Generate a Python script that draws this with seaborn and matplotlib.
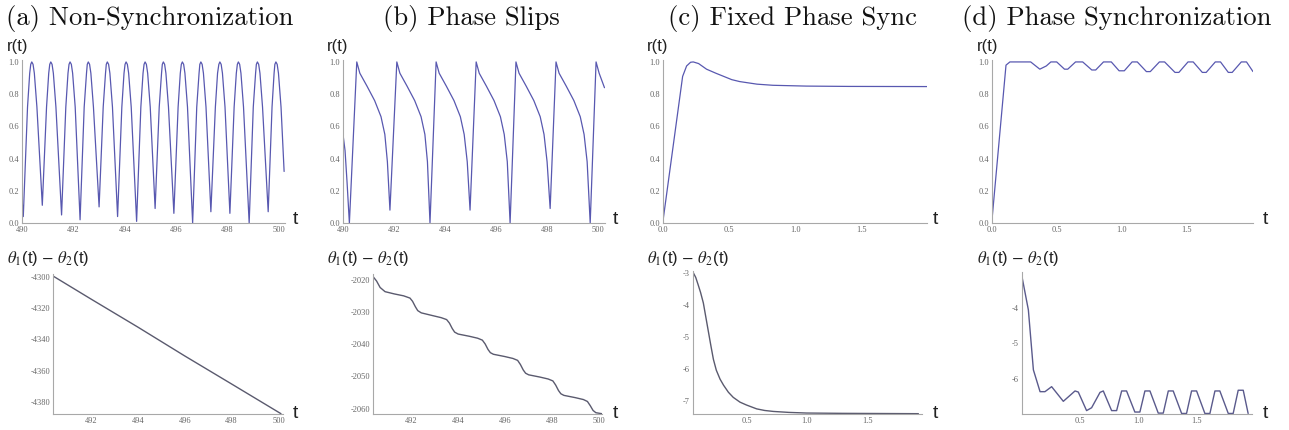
import matplotlib
matplotlib.use("Agg")
import matplotlib.pyplot as plt
import seaborn as sns

# ---- data ----
titles = ["(a) Non-Synchronization", "(b) Phase Slips", "(c) Fixed Phase Sync", "(d) Phase Synchronization"]

# (a) r(t), non-synchronization
a_r_t = [490.00,
         490.05, 490.215, 490.30, 490.34, 490.38, 490.43, 490.48, 490.58,
         490.79, 490.955, 491.04, 491.08, 491.12, 491.17, 491.22, 491.32,
         491.54, 491.705, 491.79, 491.83, 491.87, 491.92, 491.97, 492.07,
         492.26, 492.42, 492.51, 492.54, 492.58, 492.63, 492.68, 492.78,
         493.00, 493.16, 493.25, 493.28, 493.32, 493.37, 493.42, 493.52,
         493.72, 493.885, 493.97, 494.01, 494.05, 494.10, 494.15, 494.25,
         494.46, 494.625, 494.71, 494.75, 494.79, 494.84, 494.89, 494.99,
         495.18, 495.34, 495.43, 495.46, 495.50, 495.55, 495.60, 495.70,
         495.91, 496.075, 496.16, 496.20, 496.24, 496.29, 496.34, 496.44,
         496.64, 496.80, 496.89, 496.92, 496.96, 497.01, 497.06, 497.16,
         497.35, 497.525, 497.61, 497.66, 497.70, 497.75, 497.80, 497.90,
         498.09, 498.255, 498.34, 498.38, 498.42, 498.47, 498.52, 498.62,
         498.84, 499.00, 499.09, 499.12, 499.16, 499.21, 499.26, 499.36,
         499.58, 499.73, 499.81, 499.84, 499.88, 499.93, 499.98, 500.08, 500.20]
a_r_v = [0.15,
         0.04, 0.72, 0.93, 0.985, 1.00, 0.985, 0.93, 0.72,
         0.11, 0.72, 0.93, 0.985, 1.00, 0.985, 0.93, 0.72,
         0.05, 0.72, 0.93, 0.985, 1.00, 0.985, 0.93, 0.72,
         0.02, 0.72, 0.93, 0.985, 1.00, 0.985, 0.93, 0.72,
         0.10, 0.72, 0.93, 0.985, 1.00, 0.985, 0.93, 0.72,
         0.04, 0.72, 0.93, 0.985, 1.00, 0.985, 0.93, 0.72,
         0.01, 0.72, 0.93, 0.985, 1.00, 0.985, 0.93, 0.72,
         0.09, 0.72, 0.93, 0.985, 1.00, 0.985, 0.93, 0.72,
         0.06, 0.72, 0.93, 0.985, 1.00, 0.985, 0.93, 0.72,
         0.00, 0.72, 0.93, 0.985, 1.00, 0.985, 0.93, 0.72,
         0.07, 0.72, 0.93, 0.985, 1.00, 0.985, 0.93, 0.72,
         0.06, 0.72, 0.93, 0.985, 1.00, 0.985, 0.93, 0.72,
         0.00, 0.72, 0.93, 0.985, 1.00, 0.985, 0.93, 0.72,
         0.07, 0.72, 0.93, 0.985, 1.00, 0.985, 0.93, 0.72, 0.32]

# (b) r(t), phase slips
b_r_t = [490.00, 490.08, 490.16, 490.25,
         490.54, 490.66, 490.94, 491.24, 491.49, 491.64, 491.74, 491.84,
         492.11, 492.23, 492.51, 492.81, 493.06, 493.21, 493.31, 493.41,
         493.65, 493.77, 494.05, 494.35, 494.60, 494.75, 494.87, 494.98,
         495.22, 495.34, 495.62, 495.92, 496.17, 496.32, 496.44, 496.55,
         496.78, 496.90, 497.18, 497.48, 497.73, 497.88, 498.00, 498.12,
         498.35, 498.47, 498.75, 499.05, 499.30, 499.45, 499.57, 499.69,
         499.92, 500.04, 500.25]
b_r_v = [0.55, 0.45, 0.25, 0.00,
         1.00, 0.93, 0.85, 0.76, 0.66, 0.55, 0.38, 0.08,
         1.00, 0.93, 0.85, 0.76, 0.66, 0.55, 0.38, 0.00,
         1.00, 0.93, 0.85, 0.76, 0.66, 0.55, 0.38, 0.08,
         1.00, 0.93, 0.85, 0.76, 0.66, 0.55, 0.38, 0.00,
         1.00, 0.93, 0.85, 0.76, 0.66, 0.55, 0.38, 0.09,
         1.00, 0.93, 0.85, 0.76, 0.66, 0.55, 0.38, 0.00,
         1.00, 0.93, 0.84]

# (c) r(t), fixed phase sync
c_r_t = [0.00, 0.15, 0.18, 0.21, 0.23, 0.27, 0.33, 0.40, 0.46, 0.52, 0.58, 0.71, 0.83, 1.08, 1.40, 1.99]
c_r_v = [0.00, 0.91, 0.975, 0.998, 1.00, 0.99, 0.955, 0.93, 0.91, 0.89, 0.878, 0.862, 0.855, 0.85, 0.848, 0.847]

# (d) r(t), phase synchronization
d_r_t = [0.00, 0.11, 0.14, 0.30, 0.37, 0.42, 0.455, 0.50, 0.56, 0.585, 0.645, 0.70,
         0.77, 0.80, 0.86, 0.92, 0.98, 1.02, 1.08, 1.12, 1.19, 1.22, 1.29, 1.33,
         1.41, 1.44, 1.51, 1.55, 1.62, 1.65, 1.72, 1.76, 1.82, 1.85, 1.92, 1.96, 2.01]
d_r_v = [0.00, 0.98, 1.00, 1.00, 0.955, 0.975, 1.00, 1.00, 0.955, 0.955, 1.00, 1.00,
         0.95, 0.95, 1.00, 1.00, 0.945, 0.945, 1.00, 1.00, 0.94, 0.94, 1.00, 1.00,
         0.935, 0.935, 1.00, 1.00, 0.935, 0.935, 1.00, 1.00, 0.935, 0.935, 1.00, 1.00, 0.94]

# (a) theta1 - theta2
a_th_t = [490.41, 492.0, 494.0, 496.0, 498.0, 500.1]
a_th_v = [-4299.5, -4314.0, -4332.0, -4350.5, -4368.5, -4387.5]

# (b) theta1 - theta2 (staircase)
b_th_t = [490.41, 490.55, 490.70, 490.91, 491.30, 491.70, 491.97, 492.08, 492.20, 492.30,
          492.45, 492.90, 493.30, 493.53, 493.65, 493.77, 493.87, 494.02, 494.50, 494.85,
          495.05, 495.17, 495.29, 495.39, 495.52, 496.00, 496.35, 496.55, 496.67, 496.79,
          496.89, 497.02, 497.50, 497.85, 498.05, 498.17, 498.29, 498.39, 498.52, 499.00,
          499.35, 499.52, 499.64, 499.76, 499.88, 500.13]
b_th_v = [-2019.0, -2020.3, -2022.3, -2023.6, -2024.3, -2024.9, -2025.6, -2026.6, -2028.3, -2029.5,
          -2030.2, -2031.0, -2031.7, -2032.3, -2033.4, -2035.1, -2036.2, -2036.8, -2037.5, -2038.1,
          -2038.7, -2039.9, -2041.6, -2042.6, -2043.1, -2043.8, -2044.4, -2045.0, -2046.3, -2048.0,
          -2049.0, -2049.5, -2050.2, -2050.8, -2051.4, -2052.7, -2054.4, -2055.4, -2055.9, -2056.6,
          -2057.2, -2057.8, -2059.1, -2060.6, -2061.3, -2061.6]

# (c) theta1 - theta2
c_th_t = [0.055, 0.08, 0.10, 0.12, 0.143, 0.163, 0.184, 0.205, 0.226, 0.25, 0.281, 0.31,
          0.35, 0.39, 0.446, 0.50, 0.584, 0.65, 0.722, 0.85, 0.997, 1.30, 1.92]
c_th_v = [-2.97, -3.15, -3.38, -3.62, -3.95, -4.38, -4.83, -5.28, -5.71, -6.05, -6.33, -6.52,
          -6.74, -6.90, -7.05, -7.14, -7.26, -7.31, -7.34, -7.37, -7.39, -7.40, -7.41]

# (d) theta1 - theta2
d_th_t = [0.0, 0.057, 0.10, 0.157, 0.199, 0.256, 0.356, 0.456, 0.484, 0.555, 0.598, 0.670,
          0.698, 0.769, 0.812, 0.855, 0.897, 0.968, 1.011, 1.054, 1.097, 1.168, 1.211, 1.254,
          1.296, 1.368, 1.410, 1.453, 1.496, 1.567, 1.610, 1.653, 1.695, 1.767, 1.809, 1.852,
          1.895, 1.937]
d_th_v = [-3.09, -4.06, -5.74, -6.35, -6.35, -6.21, -6.62, -6.33, -6.36, -6.88, -6.80, -6.37,
          -6.33, -6.88, -6.88, -6.33, -6.33, -6.92, -6.92, -6.33, -6.33, -6.95, -6.95, -6.33,
          -6.33, -6.96, -6.96, -6.33, -6.33, -6.96, -6.96, -6.33, -6.33, -6.96, -6.96, -6.31,
          -6.31, -6.96]

# tick values
r_yticks = [0.0, 0.2, 0.4, 0.6, 0.8, 1.0]
long_xticks_top = [490, 492, 494, 496, 498, 500]
long_xticks_bot = [492, 494, 496, 498, 500]
short_xticks_top = [0.0, 0.5, 1.0, 1.5]
short_xticks_bot = [0.5, 1.0, 1.5]
a_th_yticks = [-4300, -4320, -4340, -4360, -4380]
b_th_yticks = [-2020, -2030, -2040, -2050, -2060]
c_th_yticks = [-3, -4, -5, -6, -7]
d_th_yticks = [-4, -5, -6]

# ---- style ----
sns.set_style("white")
plt.rcParams["axes.unicode_minus"] = False
plt.rcParams["mathtext.fontset"] = "stix"

W, H = 1289, 430
fig = plt.figure(figsize=(W / 100, H / 100), dpi=100)

R_COLOR = "#5858b0"
TH_COLOR = "#5a5a6e"
AX_COLOR = "#a8a8a8"


def add_ax(left, right, top, bottom):
    return fig.add_axes([left / W, 1 - bottom / H, (right - left) / W, (bottom - top) / H])


def style_ax(ax, xlim, ylim, xticks, yticks, xfmt, yfmt):
    ax.set_xlim(*xlim)
    ax.set_ylim(*ylim)
    for s in ["top", "right"]:
        ax.spines[s].set_visible(False)
    for s in ["left", "bottom"]:
        ax.spines[s].set_color(AX_COLOR)
        ax.spines[s].set_linewidth(0.8)
    ax.set_xticks(xticks)
    ax.set_yticks(yticks)
    ax.set_xticklabels([xfmt.format(v) for v in xticks])
    ax.set_yticklabels([yfmt.format(v) for v in yticks])
    ax.tick_params(direction="in", length=3, width=0.6, color=AX_COLOR,
                   labelsize=6, labelcolor="#666666", pad=2)
    for lab in ax.get_xticklabels() + ax.get_yticklabels():
        lab.set_fontfamily("Liberation Serif")
    ax.set_xlabel("")
    ax.set_ylabel("")
    ax.set_facecolor("none")


# top row: r(t)
top_specs = [
    (22, 285.4, (490, 500.25), a_r_t, a_r_v, long_xticks_top, "{:.0f}"),
    (343, 605, (490, 500.27), b_r_t, b_r_v, long_xticks_top, "{:.0f}"),
    (662.7, 927, (0, 1.99), c_r_t, c_r_v, short_xticks_top, "{:.1f}"),
    (991.7, 1253, (0, 2.01), d_r_t, d_r_v, short_xticks_top, "{:.1f}"),
]
for left, right, xlim, t, v, xt, xf in top_specs:
    ax = add_ax(left, right, 60, 223)
    sns.lineplot(x=t, y=v, ax=ax, color=R_COLOR, linewidth=0.9, sort=False, estimator=None)
    style_ax(ax, xlim, (0, 1.012), xt, r_yticks, xf, "{:.1f}")

# bottom row: theta1 - theta2
bot_specs = [
    (53.3, 283.3, 274, (490.41, 500.2), (-4387.7, -4298.1), a_th_t, a_th_v,
     long_xticks_bot, "{:.0f}", a_th_yticks, "{:.0f}", TH_COLOR),
    (373.3, 602, 274, (490.41, 500.14), (-2061.7, -2018.1), b_th_t, b_th_v,
     long_xticks_bot, "{:.0f}", b_th_yticks, "{:.0f}", TH_COLOR),
    (692.7, 922, 271, (0.055, 1.95), (-7.42, -2.95), c_th_t, c_th_v,
     short_xticks_bot, "{:.1f}", c_th_yticks, "{:.0f}", TH_COLOR),
    (1021.7, 1252, 272, (0, 1.97), (-6.975, -3.0), d_th_t, d_th_v,
     short_xticks_bot, "{:.1f}", d_th_yticks, "{:.0f}", "#5a5a8c"),
]
for left, right, top, xlim, ylim, t, v, xt, xf, yt, yf, col in bot_specs:
    ax = add_ax(left, right, top, 414)
    sns.lineplot(x=t, y=v, ax=ax, color=col, linewidth=1.0, sort=False, estimator=None)
    style_ax(ax, xlim, ylim, xt, yt, xf, yf)

# titles
title_x = [150, 471, 792, 1117]
for tx, title in zip(title_x, titles):
    fig.text(tx / W, 1 - 18 / H, title, ha="center", va="center",
             fontsize=19.2, family="cmr10", color="#111111")

# axis labels
label_left = [7, 327, 647, 977]
t_x = [293, 613, 933, 1263]
for lx, tx in zip(label_left, t_x):
    fig.text(lx / W, 1 - 46 / H, "r(t)", ha="left", va="center",
             fontsize=12, family="Liberation Sans", color="#222222")
    fig.text(lx / W, 1 - 259 / H, r"$\theta_1$(t) $-$ $\theta_2$(t)", ha="left", va="center",
             fontsize=12, family="Liberation Sans", color="#222222")
    fig.text(tx / W, 1 - 219 / H, "t", ha="left", va="center",
             fontsize=14, family="Liberation Sans", color="#222222")
    fig.text(tx / W, 1 - 414 / H, "t", ha="left", va="center",
             fontsize=14, family="Liberation Sans", color="#222222")

fig.savefig("out.png", dpi=100)
